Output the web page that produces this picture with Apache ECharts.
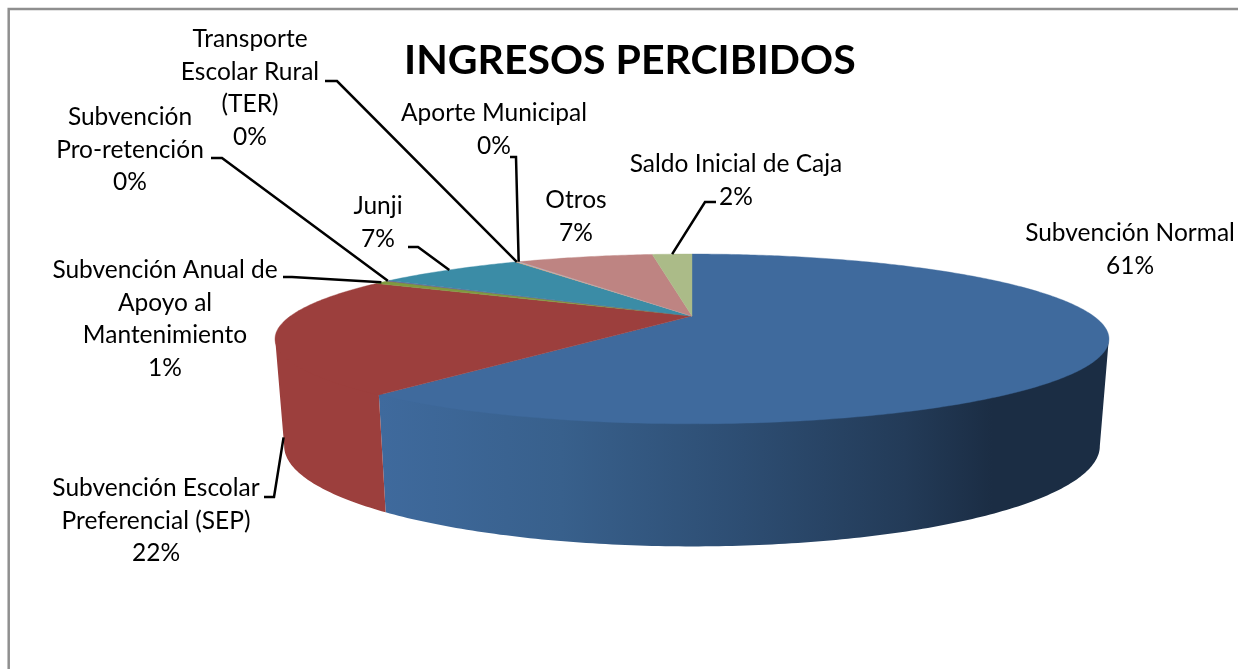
<!DOCTYPE html>
<html><head><meta charset="utf-8">
<style>html,body{margin:0;padding:0;background:#fff}#c{width:1238px;height:669px}</style>
<script src="https://cdn.jsdelivr.net/npm/echarts@6/dist/echarts.min.js"></script>
</head><body><div id="c"></div>
<script>
const chartTitle = 'INGRESOS PERCIBIDOS';
const categories = ['Subvención Normal','Subvención Escolar Preferencial (SEP)','Subvención Anual de Apoyo al Mantenimiento','Subvención Pro-retención','Junji','Transporte Escolar Rural (TER)','Aporte Municipal','Otros','Saldo Inicial de Caja'];
const values = [60.52,22.18,0.7,0.15,7.4,0.1,0.1,6.85,2.0];
const labelLines = [['Subvención Normal'],['Subvención Escolar','Preferencial (SEP)'],['Subvención Anual de','Apoyo al','Mantenimiento'],['Subvención','Pro-retención'],['Junji'],['Transporte','Escolar Rural','(TER)'],['Aporte Municipal'],['Otros'],['Saldo Inicial de Caja']];
const topColors = ['#3f6a9d','#9c3f3d','#7f9a3f','#6b5490','#3b8ca6','#e0a070','#a9bcd8','#be8482','#abbb88'];

// layout of the drawing (not data)
const FONT = '24.5px Lato, Carlito, sans-serif';
const LH = 32.7;
const geo = {cx:692, R:401.5, p:0.27, topY:316, topK:78.7, botY:419, botK:93, botX:0.978};
// label centre x, first line centre y; leader elbow points; depth fraction of the anchor on the wall
const labelLayout = [
 {x:1130,y:233},
 {x:156,y:488,pts:[[264,497],[274,497]],depth:0.87,anchorAt:0.42},
 {x:165,y:270,pts:[[283,277],[292,277]]},
 {x:130,y:117,pts:[[211,158],[222,158]]},
 {x:378,y:206,pts:[[408,247],[418,247]]},
 {x:250,y:39,pts:[[325,81],[337,81]]},
 {x:494,y:113,pts:[[510,157],[516,157]]},
 {x:576,y:200},
 {x:736,y:164,pts:[[716,202],[705,202]]}
];

const total = values.reduce((a,b)=>a+b,0);
function rim(theta, bottom){
  const u=Math.sin(theta), v=-Math.cos(theta), s=1/(1-geo.p*v);
  return bottom ? [geo.cx+geo.R*geo.botX*u*s, geo.botY+geo.botK*v*s]
                : [geo.cx+geo.R*u*s, geo.topY+geo.topK*v*s];
}
const VIS0=Math.PI-Math.acos(geo.p), VIS1=Math.PI+Math.acos(geo.p);
function arc(a,b,bottom){const n=Math.max(2,Math.ceil(Math.abs(b-a)*80)),r=[];for(let i=0;i<=n;i++)r.push(rim(a+(b-a)*i/n,bottom));return r;}
const sideFill = [
 new echarts.graphic.LinearGradient(0,0,1,0,[{offset:0,color:'#3f6a9d'},{offset:0.25,color:'#38608c'},{offset:0.5,color:'#2d4d72'},{offset:0.72,color:'#233b58'},{offset:0.84,color:'#1b2d44'},{offset:1,color:'#1b2d44'}]),
 '#9c3f3d'
];

function renderItem(params, api){
  const i=api.value(0), val=api.value(1);
  let start=0; for(let k=0;k<i;k++) start+=values[k];
  const a0=start/total*2*Math.PI, a1=(start+val)/total*2*Math.PI, mid=(a0+a1)/2;
  const kids=[];
  const s0=Math.max(a0,VIS0), s1=Math.min(a1,VIS1);
  if(s1>s0){
    // the wall's upper edge tucks under the top face so no seam shows
    const upper=arc(s0,s1,false).map(p=>[p[0],p[1]-2]);
    kids.push({type:'polygon',z2:1,shape:{points:upper.concat(arc(s1,s0,true))},style:{fill:sideFill[i]||topColors[i],stroke:null}});
  }
  kids.push({type:'polygon',z2:2,shape:{points:[[geo.cx,geo.topY]].concat(arc(a0,a1,false))},
    style:{fill:topColors[i],stroke:topColors[i],lineWidth:0.4}});
  const L=labelLayout[i];
  const pct=Math.round(val/total*100)+'%';
  kids.push({type:'text',z2:6,style:{text:labelLines[i].concat([pct]).join('\n'),x:L.x,y:L.y-LH/2,align:'center',verticalAlign:'top',font:FONT,lineHeight:LH,fill:'#000'}});
  if(L.pts){
    let end;
    if(L.depth!==undefined){
      const at=a0+(a1-a0)*L.anchorAt, t=rim(at,false), b=rim(at,true);
      end=[t[0]+(b[0]-t[0])*L.depth,t[1]+(b[1]-t[1])*L.depth];
    } else end=rim(mid,false);
    kids.push({type:'polyline',z2:5,shape:{points:L.pts.concat([end])},style:{stroke:'#000',lineWidth:2.5,fill:null}});
  }
  return {type:'group',children:kids};
}

const chart=echarts.init(document.getElementById('c'),null,{renderer:'canvas'});
chart.setOption({
  animation:false,
  backgroundColor:'#fff',
  title:{text:chartTitle,left:399,top:35,textStyle:{fontFamily:'Lato, Carlito, sans-serif',fontWeight:'bold',fontSize:41,color:'#000'}},
  graphic:[{type:'rect',z:-1,silent:true,shape:{x:8.7,y:9,width:1400,height:900},style:{fill:'none',stroke:'#8f8f8f',lineWidth:2.5}}],
  series:[{type:'custom',coordinateSystem:'none',silent:true,renderItem,
    data:categories.map((c,i)=>({name:c,value:[i,values[i]]}))}]
});
</script></body></html>
